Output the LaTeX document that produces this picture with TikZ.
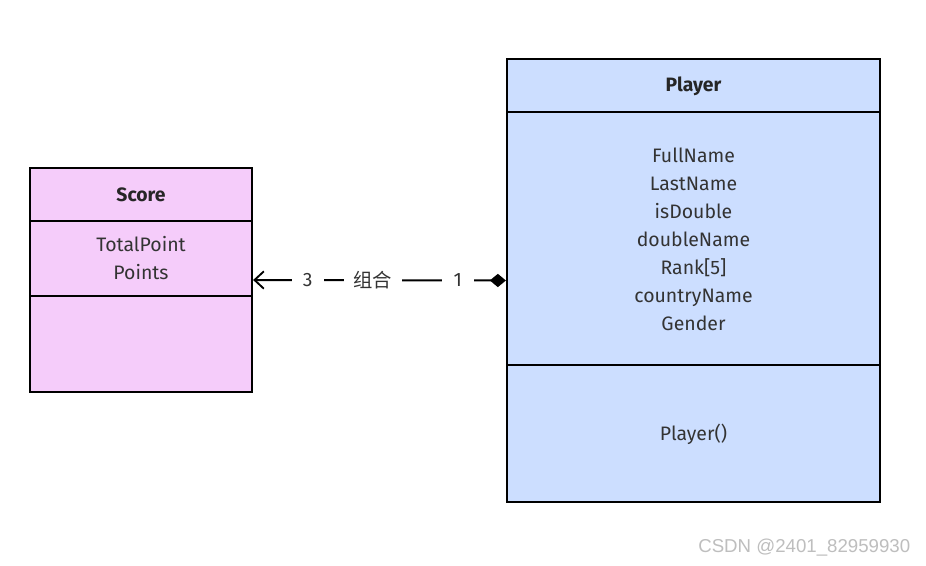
\documentclass[tikz,border=0pt]{standalone}
\usepackage{fontspec}
\setmainfont{Fira Sans}
\newfontfamily\cjk{Noto Sans CJK SC}
\newfontfamily\wmfont{Liberation Sans}
\usetikzlibrary{arrows.meta}
\definecolor{scorefill}{RGB}{245,204,250}
\definecolor{playerfill}{RGB}{204,222,255}
\definecolor{txt}{RGB}{51,51,51}
\definecolor{wm}{RGB}{190,190,190}
\tikzset{
  classbox/.style={draw=black, line width=1.7pt, inner sep=0pt},
  titletext/.style={font=\fontsize{14.5}{17}\selectfont\bfseries, text=black!85},
  membertext/.style={font=\fontsize{14.6}{21}\selectfont, text=txt, align=center},
  divider/.style={line width=1.7pt, draw=black},
  lbl/.style={fill=white, inner sep=0pt, minimum width=24pt, minimum height=12pt, font=\fontsize{14.5}{17}\selectfont, text=txt},
}
\begin{document}
\begin{tikzpicture}[x=0.75pt,y=-0.75pt]
\useasboundingbox (0,0) rectangle (926,566);
\fill[white] (0,0) rectangle (926,566);
% Score class
\node[classbox, fill=scorefill, minimum width=166.5pt, minimum height=168pt] (score) at (141,280) {};
\coordinate (sd1) at (30,221);
\coordinate (sd2) at (30,296);
\draw[divider] (sd1) -- (sd1 -| score.east);
\draw[divider] (sd2) -- (sd2 -| score.east);
\node[titletext] (scoret) at (141,195) {Score};
\node[membertext] (scorea) at (141,258.5) {TotalPoint\\Points};
% Player class
\node[classbox, fill=playerfill, minimum width=279.75pt, minimum height=332.25pt] (player) at (693.5,280.5) {};
\coordinate (pd1) at (507,112);
\coordinate (pd2) at (507,365);
\draw[divider] (pd1) -- (pd1 -| player.east);
\draw[divider] (pd2) -- (pd2 -| player.east);
\node[titletext] (playert) at (693.5,86) {Player};
\node[membertext] (playera) at (693.5,239) {FullName\\LastName\\isDouble\\doubleName\\Rank[5]\\countryName\\Gender};
\node[membertext] (playerm) at (693.5,434) {Player()};
% Composition connector
\draw[line width=1.5pt, {Straight Barb[length=7pt,width=13pt,line width=1.4pt]}-{Diamond[length=12pt,width=10pt]}]
  (score.east) -- (player.west)
  node[lbl, pos=0.216] (m3) {3}
  node[lbl, pos=0.474, minimum width=44pt] (comp) {\cjk 组合}
  node[lbl, pos=0.81] (m1) {1};
% watermark
\node[font=\wmfont\fontsize{14}{16}\selectfont, text=wm, anchor=east] (wmark) at (915,548) {CSDN @2401\_82959930};
\end{tikzpicture}
\end{document}
